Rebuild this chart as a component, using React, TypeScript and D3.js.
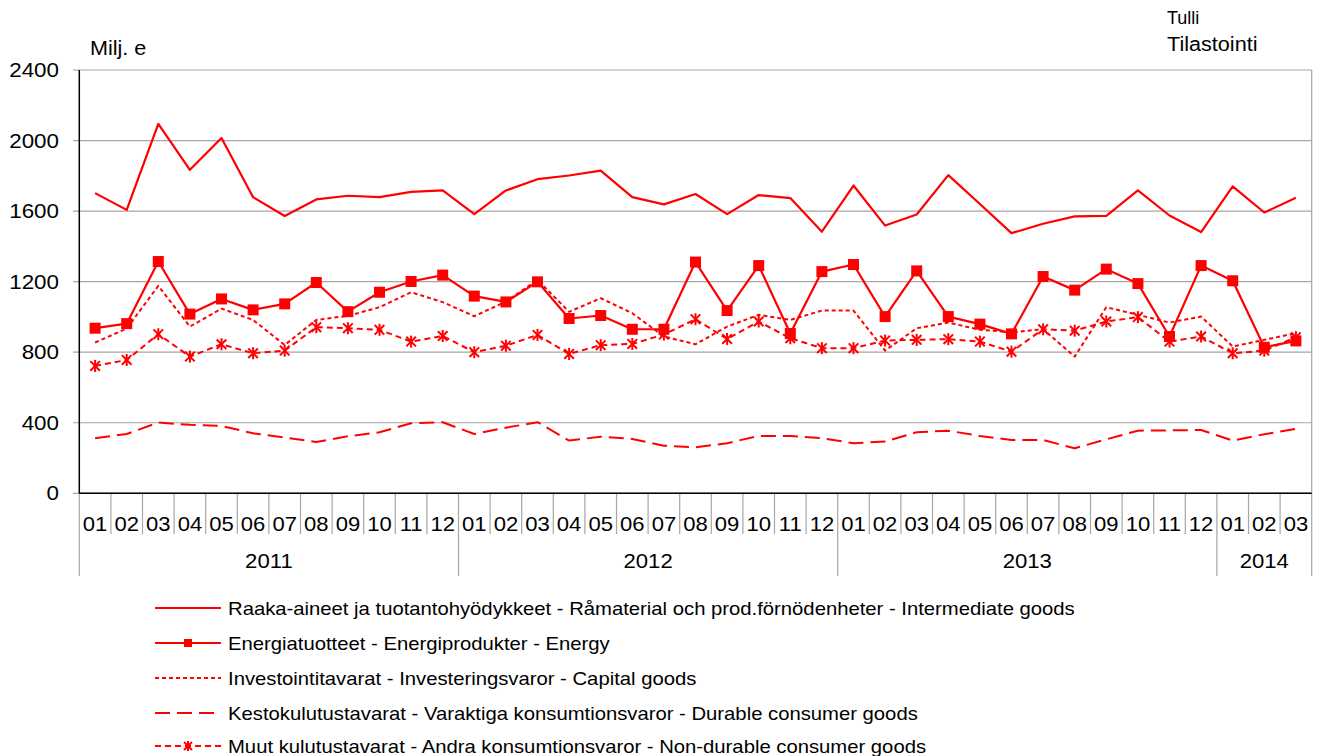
import React from "react";
import * as d3 from "d3";

const months = ["01","02","03","04","05","06","07","08","09","10","11","12","01","02","03","04","05","06","07","08","09","10","11","12","01","02","03","04","05","06","07","08","09","10","11","12","01","02","03"];
const years = [
  { label: "2011", start: 0, count: 12 },
  { label: "2012", start: 12, count: 12 },
  { label: "2013", start: 24, count: 12 },
  { label: "2014", start: 36, count: 3 },
];
const yTicks = [0, 400, 800, 1200, 1600, 2000, 2400];

const intermediate = [1702,1607,2094,1834,2014,1679,1572,1666,1687,1679,1709,1717,1583,1717,1781,1802,1829,1679,1638,1697,1583,1691,1674,1483,1745,1518,1581,1804,1640,1475,1528,1570,1573,1717,1575,1481,1740,1592,1675];
const energy = [936,962,1314,1016,1102,1040,1074,1195,1030,1140,1201,1237,1118,1085,1199,991,1008,930,930,1311,1036,1291,906,1257,1297,1002,1261,1002,959,904,1229,1152,1271,1189,889,1291,1205,828,864];
const capital = [855,934,1176,945,1047,983,841,983,1006,1055,1140,1084,1004,1087,1210,1029,1106,1021,889,845,945,1012,983,1036,1036,809,936,968,927,913,930,775,1055,1012,968,1002,832,870,908];
const durable = [312,336,401,388,382,340,316,291,323,346,397,403,336,372,403,299,321,308,270,261,284,325,325,312,284,293,346,355,325,302,302,255,306,355,357,359,299,335,365];
const nonDurable = [722,756,902,775,845,794,809,942,936,927,860,892,800,837,898,790,840,847,900,987,875,974,879,823,823,866,870,874,860,803,930,922,974,999,860,889,794,809,885];

const seriesNames = [
  "Raaka-aineet ja tuotantohyödykkeet - Råmaterial och prod.förnödenheter - Intermediate goods",
  "Energiatuotteet - Energiprodukter - Energy",
  "Investointitavarat - Investeringsvaror - Capital goods",
  "Kestokulutustavarat - Varaktiga konsumtionsvaror - Durable consumer goods",
  "Muut kulutustavarat - Andra konsumtionsvaror - Non-durable consumer goods",
];

const RED = "#FF0000";
const FONT = "'Liberation Sans', Arial, sans-serif";

const styles = [
  { data: intermediate, width: 2.2, dash: undefined as string | undefined, marker: "none" },
  { data: energy, width: 2.2, dash: undefined as string | undefined, marker: "square" },
  { data: capital, width: 2, dash: "4,3", marker: "none" },
  { data: durable, width: 2, dash: "15,7", marker: "none" },
  { data: nonDurable, width: 2, dash: "6,4", marker: "star" },
];

function T({ x, y, size, sx = 1.09, anchor = "start", children }: { x: number; y: number; size: number; sx?: number; anchor?: string; children: React.ReactNode }) {
  return (
    <text transform={`translate(${x},${y}) scale(${sx},1)`} x={0} y={0} fontSize={size} textAnchor={anchor} fill="#000">{children}</text>
  );
}

function Star({ x, y, r }: { x: number; y: number; r: number }) {
  const d = r * 0.8;
  return (
    <g stroke={RED} strokeWidth={2}>
      <line x1={x} y1={y - r} x2={x} y2={y + r} />
      <line x1={x - d} y1={y - d} x2={x + d} y2={y + d} />
      <line x1={x - d} y1={y + d} x2={x + d} y2={y - d} />
    </g>
  );
}

export default function App() {
  const left = 79.3;
  const right = 1311.7;
  const top = 70;
  const bottom = 493.3;
  const x = d3.scaleBand<number>().domain(months.map((_, i) => i)).range([left, right]).padding(0);
  const bw = x.bandwidth();
  const cx = (i: number) => (x(i) as number) + bw / 2;
  const y = d3.scaleLinear().domain([0, 2400]).range([bottom, top]);
  const line = d3.line<number>().x((_, i) => cx(i)).y((d) => y(d));

  const legendY = [608, 643, 678, 713, 746];

  return (
    <svg width={1322} height={756} style={{ position: "absolute", left: 0, top: 0, display: "block", background: "#fff" }} fontFamily={FONT}>
      {yTicks.map((t) => (
        <g key={t}>
          <line x1={73} x2={right} y1={y(t)} y2={y(t)} stroke="#A6A6A6" strokeWidth={1.2} />
          <T x={59} y={y(t) + 7} size={20} sx={1.12} anchor="end">{t}</T>
        </g>
      ))}
      <line x1={right} x2={right} y1={top} y2={576} stroke="#A6A6A6" strokeWidth={1.2} />
      {months.map((_, i) => (
        <line key={i} x1={x(i) as number} x2={x(i) as number} y1={bottom} y2={i % 12 === 0 ? 576 : 534} stroke="#A6A6A6" strokeWidth={1.2} />
      ))}
      <line x1={left} x2={left} y1={top} y2={bottom} stroke="#000" strokeWidth={1.5} />
      <line x1={left} x2={right} y1={bottom} y2={bottom} stroke="#000" strokeWidth={1.5} />
      {months.map((m, i) => (
        <T key={i} x={cx(i)} y={531} size={21} sx={1.05} anchor="middle">{m}</T>
      ))}
      {years.map((yr) => {
        const x0 = x(yr.start) as number;
        const x1 = yr.start + yr.count >= months.length ? right : (x(yr.start + yr.count) as number);
        return (
          <T key={yr.label} x={(x0 + x1) / 2} y={568} size={20.5} sx={1.08} anchor="middle">{yr.label}</T>
        );
      })}
      {styles.map((s, k) => (
        <g key={k}>
          <path d={line(s.data) as string} fill="none" stroke={RED} strokeWidth={s.width} strokeDasharray={s.dash} strokeLinejoin="round" />
          {s.marker === "square" && s.data.map((v, i) => (
            <rect key={i} x={cx(i) - 5.5} y={y(v) - 5.5} width={11} height={11} fill={RED} />
          ))}
          {s.marker === "star" && s.data.map((v, i) => (
            <Star key={i} x={cx(i)} y={y(v)} r={6} />
          ))}
        </g>
      ))}
      <T x={90} y={55} size={20} sx={1.08}>Milj. e</T>
      <T x={1167} y={24} size={18} sx={1.0}>Tulli</T>
      <T x={1167} y={51} size={21} sx={1.03}>Tilastointi</T>
      {styles.map((s, k) => {
        const ly = legendY[k];
        return (
          <g key={k}>
            <line x1={155} x2={221} y1={ly} y2={ly} stroke={RED} strokeWidth={s.width} strokeDasharray={s.dash} />
            {s.marker === "square" && <rect x={188 - 4} y={ly - 4} width={8} height={8} fill={RED} />}
            {s.marker === "star" && <Star x={188} y={ly} r={5} />}
            <T x={228} y={ly + 7} size={18.6} sx={1.09}>{seriesNames[k]}</T>
          </g>
        );
      })}
    </svg>
  );
}
